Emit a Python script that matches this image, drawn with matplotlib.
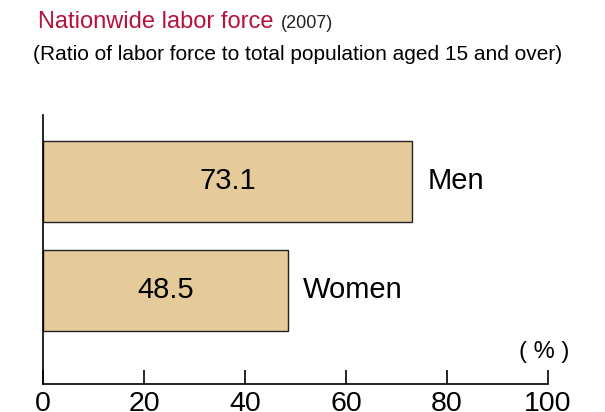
import matplotlib
matplotlib.use('Agg')
import matplotlib.pyplot as plt

plt.rcParams['font.family'] = ['Liberation Sans', 'DejaVu Sans']

categories = ['Men', 'Women']
values = [73.1, 48.5]
xticks = [0, 20, 40, 60, 80, 100]

BAR_COLOR = '#E5CB9A'
TITLE_RED = '#B5123E'

fig = plt.figure(figsize=(6.05, 4.12), dpi=100)
ax = fig.add_axes([43 / 605, 28 / 412, 505 / 605, 269 / 412])

ypos = list(range(len(categories)))
ax.barh(ypos, values, height=0.743, color=BAR_COLOR, edgecolor='#222222', linewidth=1.0)

for y, v, name in zip(ypos, values, categories):
    ax.text(v / 2, y, f'{v:.1f}', ha='center', va='center', fontsize=21)
    ax.text(v + 3.0, y, name, ha='left', va='center', fontsize=21)

ax.set_xlim(0, 100)
ax.set_ylim(1.858, -0.61)
ax.set_xticks(xticks)
ax.set_xticklabels([str(t) for t in xticks], fontsize=20.5)
ax.set_yticks([])
ax.tick_params(axis='x', direction='in', length=10, width=1.2, pad=5)
for s in ['top', 'right']:
    ax.spines[s].set_visible(False)
ax.spines['left'].set_linewidth(1.2)
ax.spines['bottom'].set_linewidth(1.2)

ax.text(99.2, 1.56, '( % )', ha='center', va='center', fontsize=17)

fig.text(38 / 605, 1 - 22 / 412, 'Nationwide labor force', color=TITLE_RED,
         fontsize=17, ha='left', va='center')
fig.text(281 / 605, 1 - 23 / 412, '(2007)', color='#222222',
         fontsize=13, ha='left', va='center')
fig.text(33 / 605, 1 - 55 / 412, '(Ratio of labor force to total population aged 15 and over)',
         fontsize=15, ha='left', va='center')

fig.savefig('out.png', dpi=100)
